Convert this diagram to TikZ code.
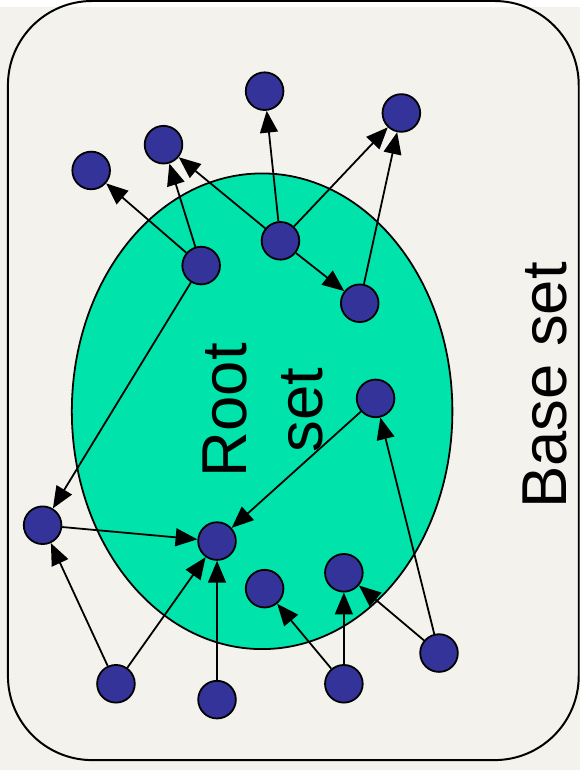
\documentclass[tikz,border=0pt]{standalone}
\usepackage{fontspec}
\setmainfont{Liberation Sans}
\usetikzlibrary{arrows.meta,shapes}
\usepackage{xcolor}

\definecolor{paper}{HTML}{F3F2EC}
\definecolor{rootgreen}{HTML}{00E3AA}
\definecolor{pageblue}{HTML}{333399}

\begin{document}
\begin{tikzpicture}[
    x=1pt, y=-1pt,
    page/.style={circle, draw, line width=1.8pt, fill=pageblue, minimum size=38pt, inner sep=0pt},
    link/.style={-{Triangle[length=22pt,width=18pt]}, line width=1.8pt},
    settext/.style={rotate=90, align=center, inner sep=0pt, font=\fontsize{64}{76}\selectfont}
]

% Background and base set frame
\fill[paper] (0,0) rectangle (585,770);
\draw[line width=2pt, rounded corners=85pt] (8,-6) rectangle (584,760);

% Root set
\draw[line width=1.8pt, fill=rootgreen] (264.5,408) ellipse [x radius=192, y radius=240];
\node[settext] (rootlbl) at (265.5,407) {Root\\set};
\node[settext] (baselbl) at (550,382) {Base set};

% Pages inside the root set
\node[page] (root1) at (203,261) {};
\node[page] (root2) at (283,236) {};
\node[page] (root3) at (363,299) {};
\node[page] (root4) at (379,395) {};
\node[page] (root5) at (219,539) {};
\node[page] (root6) at (267,587) {};
\node[page] (root7) at (347,571) {};

% Pages pointed to by the root set
\node[page] (out1) at (267,85) {};
\node[page] (out2) at (405,107) {};
\node[page] (out3) at (165,139) {};
\node[page] (out4) at (92,165) {};
\node[page] (out5) at (43,523) {};

% Pages pointing into the root set
\node[page] (in1) at (117,683) {};
\node[page] (in2) at (219,699) {};
\node[page] (in3) at (347,683) {};
\node[page] (in4) at (443,652) {};

% Links
\draw[link] (root2) -- (out1);
\draw[link] (root2) -- (out3);
\draw[link] (root2) -- (out2);
\draw[link] (root2) -- (root3);
\draw[link] (root3) -- (out2);
\draw[link] (root1) -- (out3);
\draw[link] (root1) -- (out4);
\draw[link] (root1) -- (out5);
\draw[link] (out5) -- (root5);
\draw[link] (root4) -- (root5);
\draw[link] (in1) -- (out5);
\draw[link] (in1) -- (root5);
\draw[link] (in2) -- (root5);
\draw[link] (in3) -- (root6);
\draw[link] (in3) -- (root7);
\draw[link] (in4) -- (root7);
\draw[link] (in4) -- (root4);

\end{tikzpicture}
\end{document}
